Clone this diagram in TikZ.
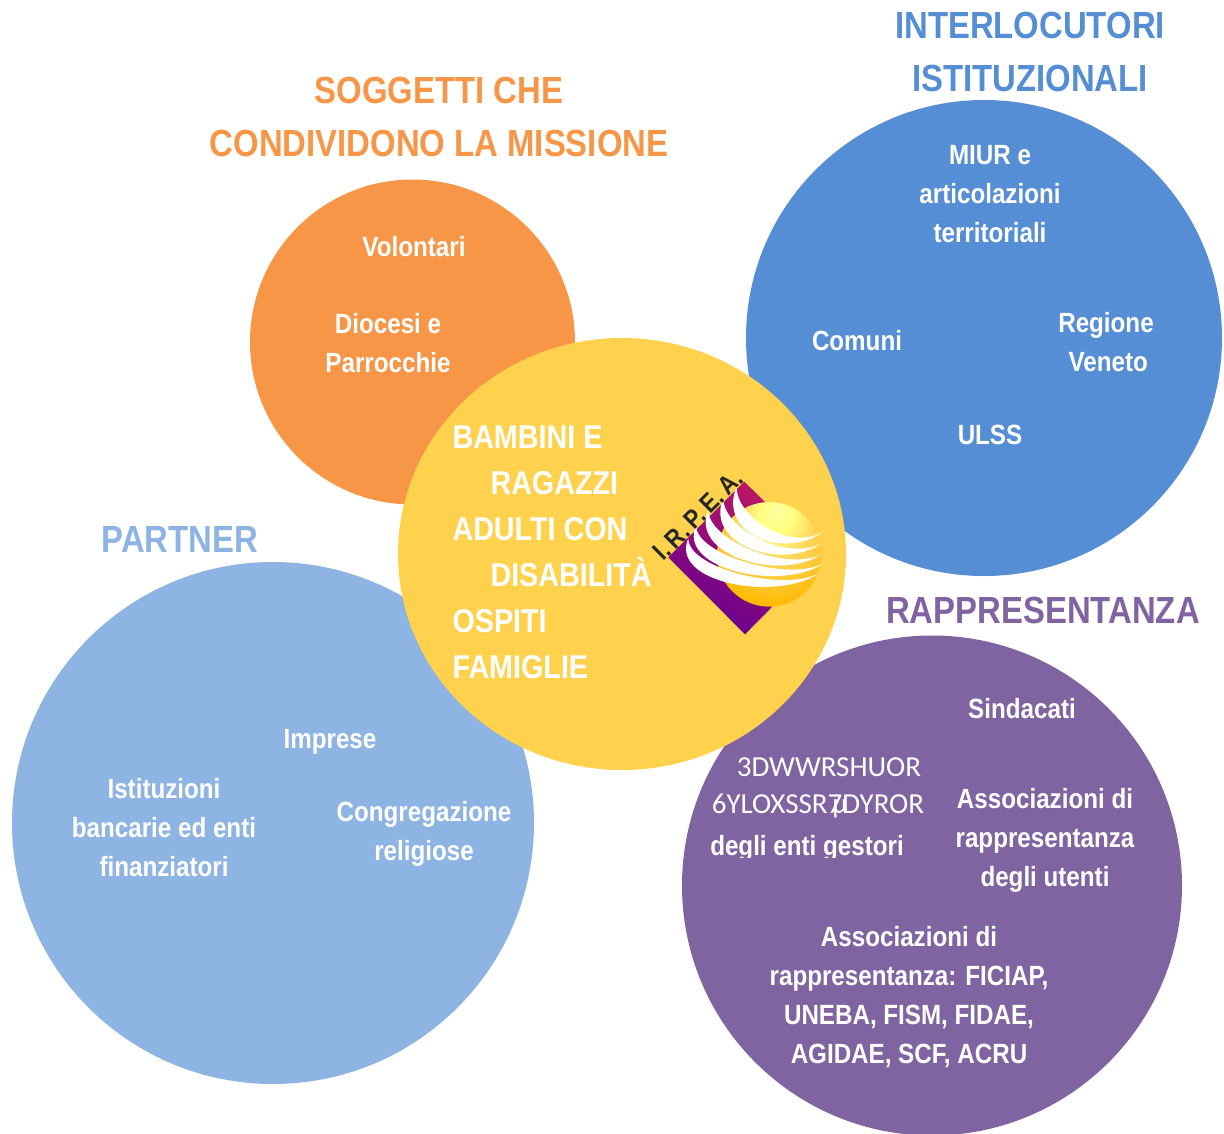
\documentclass[tikz,border=0pt]{standalone}
\usepackage{fontspec}
\setmainfont{Liberation Sans}[FakeStretch=0.87]
\newfontfamily\thinfont{Carlito}
\definecolor{arancio}{HTML}{F79646}
\definecolor{azzurro}{HTML}{558ED5}
\definecolor{celeste}{HTML}{8EB4E3}
\definecolor{viola}{HTML}{8064A2}
\definecolor{giallo}{HTML}{FFD24D}
\definecolor{logoviola}{HTML}{660090}
\definecolor{logorosso}{HTML}{C01860}
\pgfdeclareradialshading{sunball}{\pgfpoint{4bp}{22bp}}{color(0bp)=(yellow!35!white); color(8bp)=(yellow!50!white); color(18bp)=(giallo!90!white); color(34bp)=(orange!55!yellow); color(60bp)=(orange!95!yellow)}
\tikzset{
  titolo/.style={font=\fontsize{37.8}{53}\selectfont\bfseries,align=center},
  voce/.style={font=\fontsize{27.8}{39}\selectfont\bfseries,align=center,text=white},
  centro/.style={font=\fontsize{33}{46}\selectfont\bfseries,align=left,text=white},
  storta/.style={font=\fontsize{29}{39}\selectfont\thinfont,text=white,inner sep=0pt}
}
\begin{document}
\begin{tikzpicture}[x=1pt,y=-1pt]
\useasboundingbox (0,0) rectangle (1224,1133);

% cerchi
\fill[color=arancio] (412.5,342) circle (162.5);
\fill[color=azzurro] (984,338) circle (238);
\fill[color=celeste] (273,823) circle (261);
\fill[color=viola] (932,885.5) circle (250);
\fill[color=giallo] (622,554) ellipse [x radius=224,y radius=216];

% logo
\begin{scope}[shift={(640,460)},x=.3333pt,y=-.3333pt]
  \shade[left color=logoviola,middle color=logoviola,right color=logorosso,shading angle=150]
    (85,292) -- (313,65) -- (543,292) -- (315,523) -- cycle;
  \shade[shading=sunball] (388,283) circle (157);
  \foreach \tx/\ty/\rx/\ry in {290/80/550/215, 250/115/548/248, 205/150/548/280, 168/195/555/308, 145/235/540/338}
    \fill[white] (\tx,\ty) .. controls +(-58,136) and +(-125,88) .. (\rx,\ry)
      .. controls +(-100,60) and +(-2,92) .. cycle;
\end{scope}
\node[rotate=45,font=\fontsize{26}{26}\selectfont\bfseries,text=black!85] (sigla) at (698,515) {I.\,R.\,P.\,E.\,A.};

% titoli
\node[titolo,text=arancio] (soggetti) at (439,117) {SOGGETTI CHE\\CONDIVIDONO LA MISSIONE};
\node[titolo,text=azzurro] (interlocutori) at (1030,52) {INTERLOCUTORI\\ISTITUZIONALI};
\node[titolo,text=celeste] (partner) at (180,539) {PARTNER};
\node[titolo,text=viola] (rappresentanza) at (1043,610) {RAPPRESENTANZA};

% arancio
\node[voce] (volontari) at (414,247) {Volontari};
\node[voce] (diocesi) at (388,343) {Diocesi e\\Parrocchie};

% azzurro
\node[voce] (miur) at (990,194) {MIUR e\\articolazioni\\territoriali};
\node[voce] (comuni) at (857,341) {Comuni};
\node[voce] (regione) at (1106,342) {Regione\\\,Veneto};
\node[voce] (ulss) at (990,435) {ULSS};

% centro
\node[centro,anchor=west] (utenti) at (449,552) {BAMBINI E\\\hspace*{38pt}RAGAZZI\\ADULTI CON\\\hspace*{38pt}DISABILITÀ\\OSPITI\\FAMIGLIE};

% celeste
\node[voce] (imprese) at (330,742) {Imprese};
\node[voce] (istituzioni) at (164,828) {Istituzioni\\bancarie ed enti\\finanziatori};
\node[voce] (congregazione) at (424,834) {Congregazione\\religiose};

% viola
\node[voce] (sindacati) at (1022,709) {Sindacati};
\node[storta] (patto) at (829,767) {3DWWRSHUOR};
\node[storta] (sviluppo) at (818,806) {6YLOXSSR\rlap{\,µ}7DYROR};
\begin{scope}
  \clip (700,825) rectangle (915,857);
  \node[voce] (gestori) at (807,848) {degli enti gestori};
\end{scope}
\node[voce] (assutenti) at (1045,840) {Associazioni di\\rappresentanza\\degli utenti};
\node[voce] (associazioni) at (909,997) {Associazioni di\\rappresentanza: FICIAP,\\UNEBA, FISM, FIDAE,\\AGIDAE, SCF, ACRU};
\end{tikzpicture}
\end{document}
